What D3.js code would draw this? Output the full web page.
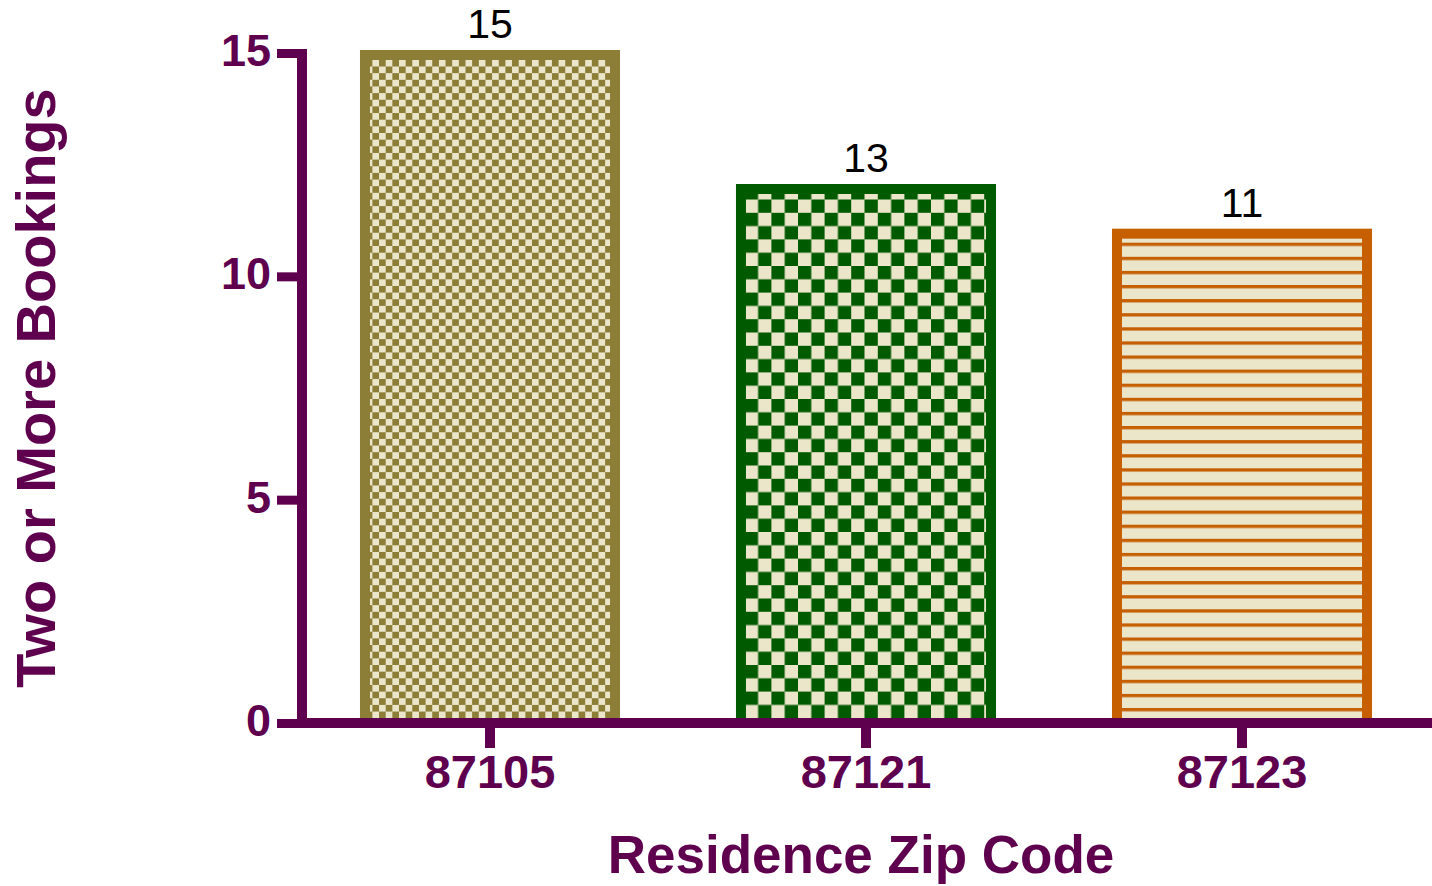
<!DOCTYPE html>
<html>
<head>
<meta charset="utf-8">
<style>
  html, body { margin: 0; padding: 0; background: #fff; }
  svg { display: block; }
  text { font-family: "Liberation Sans", Arial, sans-serif; }
</style>
<script src="https://cdn.jsdelivr.net/npm/d3@7"></script>
</head>
<body>
<svg id="chart" width="1432" height="886"></svg>
<script>
/* Two or more bookings by residence zip code — patterned bar chart */

const zips = ['87105', '87121', '87123'];
const heights = [15, 12, 11];          // bar heights as drawn
const valueLabels = ['15', '13', '11']; // numbers printed above bars
const yTicks = [0, 5, 10, 15];
const patterns = ['fine', 'coarse', 'stripes'];

const purple = '#5f004f';
const cream = '#ebe5c9';
const barColors = ['#8c7d37', '#005a00', '#c55f00'];

const W = 1432, H = 886;
const svg = d3.select('#chart');

const x = d3.scaleBand().domain(zips).range([302, 1430])
  .paddingInner(0.335).paddingOuter(0.1675);
const y = d3.scaleLinear().domain([0, 15]).range([723, 53]);

/* ---------- fill patterns ---------- */
const defs = svg.append('defs');
function checker(id, cell, color) {
  const p = defs.append('pattern').attr('id', id)
    .attr('patternUnits', 'userSpaceOnUse')
    .attr('width', cell * 2).attr('height', cell * 2);
  p.append('rect').attr('width', cell * 2).attr('height', cell * 2).attr('fill', cream);
  p.append('rect').attr('width', cell).attr('height', cell).attr('fill', color);
  p.append('rect').attr('x', cell).attr('y', cell).attr('width', cell).attr('height', cell).attr('fill', color);
}
checker('pat-fine', 6.65, barColors[0]);
checker('pat-coarse', 13.3, barColors[1]);
(function stripes() {
  const p = defs.append('pattern').attr('id', 'pat-stripes')
    .attr('patternUnits', 'userSpaceOnUse')
    .attr('width', 20).attr('height', 14.1).attr('y', 3);
  p.append('rect').attr('width', 20).attr('height', 14.1).attr('fill', cream);
  p.append('rect').attr('y', 0).attr('width', 20).attr('height', 3.3).attr('fill', barColors[2]);
})();

/* ---------- bars ---------- */
const bars = zips.map((z, i) => ({ zip: z, h: heights[i], label: valueLabels[i], i }));

svg.append('g').selectAll('rect').data(bars).join('rect')
  .attr('x', d => x(d.zip))
  .attr('y', d => y(d.h) + 2)
  .attr('width', x.bandwidth())
  .attr('height', d => y(0) - y(d.h) - 2)
  .attr('fill', d => `url(#pat-${patterns[d.i]})`)
  .attr('stroke', d => barColors[d.i])
  .attr('stroke-width', 10);

svg.append('g').selectAll('text').data(bars).join('text')
  .attr('x', d => x(d.zip) + x.bandwidth() / 2)
  .attr('y', d => y(d.h) - 15)
  .attr('text-anchor', 'middle')
  .attr('font-size', 41)
  .attr('fill', '#000')
  .text(d => d.label);

/* ---------- axes ---------- */
const x0 = x.range()[0];

const yAxis = svg.append('g').attr('transform', `translate(${x0},0)`)
  .call(d3.axisLeft(y).tickValues(yTicks).tickSize(25).tickPadding(6).tickSizeOuter(0));
yAxis.select('.domain').remove();
yAxis.selectAll('line').attr('stroke', purple).attr('stroke-width', 9);
yAxis.selectAll('text').attr('fill', purple).attr('font-size', 45)
  .attr('font-weight', 'bold').attr('dy', '0.28em')
  .attr('font-family', '"Liberation Sans", Arial, sans-serif');

const xAxis = svg.append('g').attr('transform', `translate(0,${y(0)})`)
  .call(d3.axisBottom(x).tickSize(25).tickPadding(7).tickSizeOuter(0));
xAxis.select('.domain').remove();
xAxis.selectAll('line').attr('stroke', purple).attr('stroke-width', 10);
xAxis.selectAll('text').attr('fill', purple).attr('font-size', 47)
  .attr('font-weight', 'bold')
  .attr('font-family', '"Liberation Sans", Arial, sans-serif');

// main axis lines
svg.append('line')
  .attr('x1', x0).attr('x2', x0)
  .attr('y1', y(15) - 4).attr('y2', y(0) + 5)
  .attr('stroke', purple).attr('stroke-width', 10);
svg.append('line')
  .attr('x1', x0 - 5).attr('x2', W)
  .attr('y1', y(0)).attr('y2', y(0))
  .attr('stroke', purple).attr('stroke-width', 10);

/* ---------- titles ---------- */
svg.append('text')
  .attr('x', 861).attr('y', 873)
  .attr('text-anchor', 'middle')
  .attr('font-size', 53).attr('font-weight', 'bold')
  .attr('fill', purple)
  .text('Residence Zip Code');

svg.append('text')
  .attr('transform', 'translate(55,388) rotate(-90)')
  .attr('text-anchor', 'middle')
  .attr('font-size', 56).attr('font-weight', 'bold')
  .attr('fill', purple)
  .text('Two or More Bookings');
</script>
</body>
</html>
